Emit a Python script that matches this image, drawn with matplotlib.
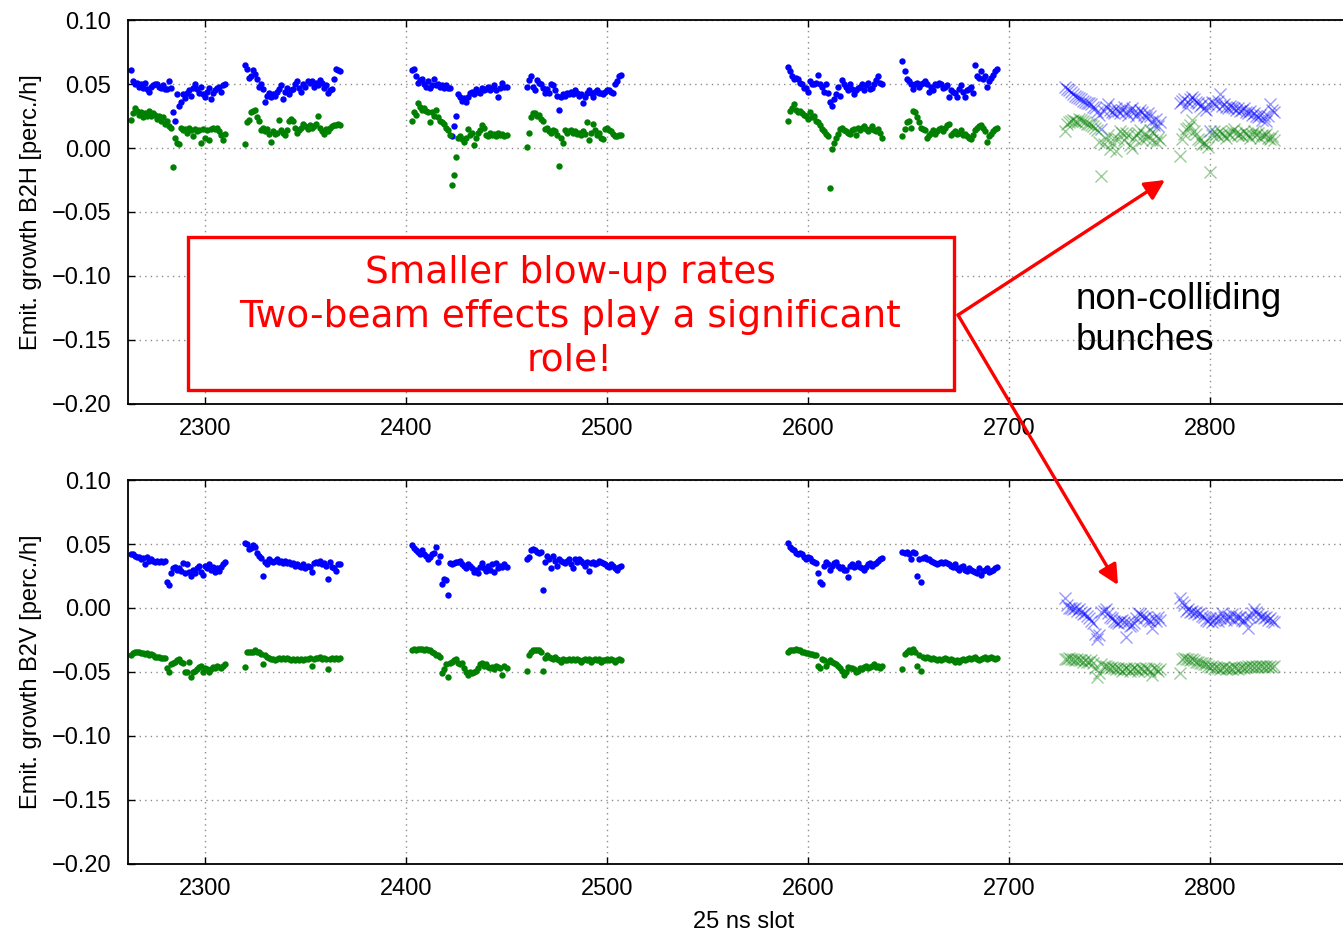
import numpy as np
import matplotlib
matplotlib.use("Agg")
import matplotlib.pyplot as plt
from matplotlib.patches import Rectangle, FancyArrowPatch
from matplotlib.ticker import FuncFormatter

# first 25 ns slot of each train (48 bunches per train)
coll_starts = [2263, 2320, 2403, 2460, 2590, 2647]
noncoll_starts = [2728, 2785]

# emittance growth B2H [perc./h], one list per train
b2h_blue = [
    [0.061, 0.052, 0.050, 0.051, 0.048, 0.050, 0.047, 0.051, 0.046, 0.044, 0.048, 0.049, 0.050, 0.050, 0.048, 0.047,
     0.049, 0.046, 0.046, 0.052, 0.047, 0.028, 0.021, 0.042, 0.033, 0.036, 0.042, 0.039, 0.043, 0.045, 0.041, 0.047,
     0.050, 0.046, 0.043, 0.048, 0.042, 0.040, 0.044, 0.047, 0.038, 0.043, 0.045, 0.047, 0.048, 0.044, 0.049, 0.050],
    [0.065, 0.062, 0.055, 0.056, 0.061, 0.058, 0.054, 0.048, 0.050, 0.046, 0.036, 0.041, 0.043, 0.040, 0.042, 0.041,
     0.044, 0.046, 0.049, 0.038, 0.044, 0.047, 0.042, 0.045, 0.046, 0.050, 0.052, 0.047, 0.044, 0.050, 0.048, 0.052,
     0.051, 0.052, 0.048, 0.051, 0.049, 0.053, 0.051, 0.047, 0.049, 0.043, 0.045, 0.046, 0.054, 0.062, 0.061, 0.060],
    [0.061, 0.062, 0.056, 0.051, 0.053, 0.054, 0.050, 0.048, 0.052, 0.047, 0.049, 0.054, 0.049, 0.050, 0.048, 0.049,
     0.047, 0.049, 0.047, 0.047, 0.009, 0.017, 0.025, 0.042, 0.040, 0.037, 0.039, 0.036, 0.040, 0.043, 0.044, 0.042,
     0.046, 0.044, 0.043, 0.047, 0.045, 0.046, 0.048, 0.045, 0.047, 0.049, 0.045, 0.040, 0.047, 0.051, 0.048, 0.048],
    [0.048, 0.053, 0.056, 0.048, 0.045, 0.053, 0.051, 0.050, 0.047, 0.043, 0.046, 0.043, 0.050, 0.049, 0.045, 0.041,
     0.030, 0.040, 0.042, 0.041, 0.043, 0.042, 0.044, 0.042, 0.045, 0.043, 0.041, 0.042, 0.035, 0.040, 0.043, 0.045,
     0.043, 0.040, 0.044, 0.045, 0.043, 0.043, 0.042, 0.044, 0.045, 0.045, 0.044, 0.043, 0.050, 0.052, 0.056, 0.057],
    [0.063, 0.060, 0.056, 0.054, 0.055, 0.054, 0.051, 0.050, 0.047, 0.047, 0.044, 0.052, 0.050, 0.050, 0.051, 0.057,
     0.050, 0.048, 0.044, 0.050, 0.043, 0.036, 0.033, 0.038, 0.042, 0.048, 0.041, 0.053, 0.050, 0.048, 0.045, 0.050,
     0.046, 0.042, 0.045, 0.047, 0.048, 0.050, 0.045, 0.049, 0.051, 0.046, 0.047, 0.050, 0.053, 0.056, 0.051, 0.050],
    [0.068, 0.060, 0.054, 0.052, 0.050, 0.046, 0.050, 0.051, 0.048, 0.050, 0.051, 0.052, 0.050, 0.044, 0.048, 0.045,
     0.050, 0.049, 0.051, 0.050, 0.047, 0.048, 0.049, 0.040, 0.045, 0.044, 0.043, 0.040, 0.046, 0.049, 0.044, 0.040,
     0.045, 0.046, 0.048, 0.043, 0.065, 0.056, 0.055, 0.060, 0.054, 0.056, 0.048, 0.052, 0.055, 0.057, 0.060, 0.062],
]
b2h_green = [
    [0.022, 0.027, 0.031, 0.029, 0.026, 0.028, 0.024, 0.027, 0.025, 0.029, 0.025, 0.027, 0.026, 0.023, 0.025, 0.021,
     0.024, 0.019, 0.021, 0.017, 0.016, -0.015, 0.008, 0.004, 0.003, 0.016, 0.014, 0.015, 0.012, 0.016, 0.014, 0.009,
     0.015, 0.013, 0.014, 0.004, 0.015, 0.008, 0.014, 0.006, 0.015, 0.016, 0.015, 0.016, 0.013, 0.010, 0.006, 0.011],
    [0.003, 0.020, 0.022, 0.028, 0.029, 0.030, 0.024, 0.021, 0.014, 0.016, 0.013, 0.015, 0.011, 0.005, 0.013, 0.011,
     0.012, 0.022, 0.014, 0.012, 0.010, 0.014, 0.021, 0.023, 0.021, 0.016, 0.012, 0.014, 0.016, 0.019, 0.017, 0.015,
     0.018, 0.016, 0.017, 0.019, 0.025, 0.016, 0.013, 0.011, 0.015, 0.013, 0.016, 0.017, 0.018, 0.018, 0.019, 0.018],
    [0.021, 0.028, 0.026, 0.035, 0.032, 0.030, 0.031, 0.029, 0.028, 0.020, 0.028, 0.025, 0.030, 0.024, 0.021, 0.020,
     0.019, 0.016, 0.014, 0.010, -0.029, -0.021, -0.007, 0.008, 0.009, 0.007, 0.005, 0.008, 0.015, 0.010, 0.012, 0.002,
     0.008, 0.012, 0.014, 0.018, 0.016, 0.010, 0.009, 0.012, 0.010, 0.011, 0.009, 0.012, 0.010, 0.011, 0.009, 0.010],
    [0.001, 0.012, 0.024, 0.027, 0.027, 0.025, 0.026, 0.023, 0.021, 0.015, 0.016, 0.013, 0.012, 0.014, 0.013, 0.010,
     -0.014, 0.008, 0.004, 0.014, 0.012, 0.013, 0.014, 0.012, 0.013, 0.011, 0.012, 0.010, 0.013, 0.011, 0.020, 0.006,
     0.012, 0.019, 0.014, 0.010, 0.012, 0.008, 0.007, 0.015, 0.016, 0.014, 0.013, 0.011, 0.009, 0.009, 0.010, 0.010],
    [0.021, 0.029, 0.031, 0.034, 0.030, 0.028, 0.029, 0.027, 0.026, 0.025, 0.023, 0.028, 0.024, 0.025, 0.021, 0.020,
     0.018, 0.015, 0.013, 0.011, 0.009, -0.031, -0.001, 0.004, 0.008, 0.011, 0.015, 0.016, 0.014, 0.013, 0.012, 0.011,
     0.014, 0.015, 0.010, 0.016, 0.014, 0.016, 0.017, 0.015, 0.013, 0.015, 0.017, 0.014, 0.013, 0.015, 0.012, 0.008],
    [0.009, 0.015, 0.020, 0.021, 0.016, 0.029, 0.028, 0.024, 0.020, 0.016, 0.015, 0.014, 0.008, 0.010, 0.012, 0.014,
     0.011, 0.013, 0.015, 0.016, 0.013, 0.016, 0.018, 0.019, 0.010, 0.012, 0.013, 0.011, 0.012, 0.014, 0.010, 0.011,
     0.009, 0.008, 0.007, 0.010, 0.014, 0.016, 0.017, 0.018, 0.016, 0.013, 0.005, 0.009, 0.011, 0.013, 0.015, 0.016],
]
b2h_blue_nc = [
    [0.048, 0.046, 0.045, 0.044, 0.042, 0.041, 0.040, 0.039, 0.038, 0.037, 0.036, 0.035, 0.035, 0.034, 0.032, 0.031,
     0.028, 0.026, 0.015, 0.029, 0.032, 0.034, 0.030, 0.028, 0.027, 0.031, 0.029, 0.027, 0.030, 0.032, 0.028, 0.026,
     0.030, 0.031, 0.028, 0.025, 0.027, 0.030, 0.028, 0.026, 0.024, 0.027, 0.025, 0.021, 0.018, 0.023, 0.017, 0.020],
    [0.035, 0.037, 0.038, 0.032, 0.036, 0.038, 0.040, 0.038, 0.036, 0.035, 0.033, 0.034, 0.031, 0.030, 0.034, 0.013,
     0.036, 0.035, 0.033, 0.037, 0.042, 0.033, 0.034, 0.032, 0.031, 0.033, 0.032, 0.031, 0.030, 0.031, 0.029, 0.030,
     0.031, 0.028, 0.027, 0.029, 0.026, 0.027, 0.025, 0.024, 0.026, 0.022, 0.025, 0.021, 0.025, 0.034, 0.030, 0.028],
]
b2h_green_nc = [
    [0.013, 0.019, 0.020, 0.021, 0.022, 0.021, 0.020, 0.023, 0.022, 0.021, 0.020, 0.019, 0.019, 0.018, 0.017, 0.016,
     0.014, 0.005, -0.022, 0.003, 0.007, 0.010, -0.001, 0.004, 0.008, -0.002, 0.007, 0.013, 0.012, 0.006, 0.012, 0.010,
     0.002, 0.000, 0.008, 0.010, 0.012, 0.014, 0.006, 0.011, 0.007, 0.009, 0.014, 0.006, 0.012, 0.005, 0.008, 0.006],
    [-0.006, 0.007, 0.011, 0.015, 0.016, 0.018, 0.022, 0.013, 0.011, 0.007, 0.006, 0.003, 0.004, 0.003, 0.001, -0.019,
     0.010, 0.013, 0.011, 0.009, 0.013, 0.011, 0.010, 0.008, 0.012, 0.010, 0.013, 0.015, 0.012, 0.010, 0.011, 0.009,
     0.013, 0.011, 0.010, 0.008, 0.011, 0.013, 0.010, 0.012, 0.008, 0.010, 0.009, 0.011, 0.008, 0.007, 0.009, 0.006],
]

# emittance growth B2V [perc./h]
b2v_blue = [
    [0.042, 0.042, 0.041, 0.040, 0.040, 0.038, 0.039, 0.034, 0.040, 0.037, 0.038, 0.037, 0.036, 0.037, 0.036, 0.037,
     0.036, 0.037, 0.020, 0.018, 0.027, 0.031, 0.032, 0.030, 0.031, 0.029, 0.035, 0.027, 0.034, 0.028, 0.025, 0.030,
     0.027, 0.031, 0.033, 0.028, 0.026, 0.033, 0.031, 0.034, 0.030, 0.032, 0.028, 0.031, 0.029, 0.032, 0.034, 0.036],
    [0.051, 0.050, 0.046, 0.047, 0.049, 0.048, 0.043, 0.041, 0.039, 0.025, 0.036, 0.034, 0.038, 0.037, 0.036, 0.037,
     0.038, 0.036, 0.037, 0.035, 0.037, 0.035, 0.036, 0.034, 0.035, 0.033, 0.034, 0.033, 0.032, 0.034, 0.031, 0.033,
     0.032, 0.028, 0.035, 0.036, 0.035, 0.037, 0.034, 0.035, 0.033, 0.023, 0.036, 0.032, 0.031, 0.029, 0.034, 0.034],
    [0.049, 0.047, 0.045, 0.044, 0.042, 0.045, 0.042, 0.041, 0.038, 0.040, 0.042, 0.043, 0.048, 0.036, 0.041, 0.019,
     0.023, 0.022, 0.010, 0.035, 0.034, 0.035, 0.036, 0.036, 0.037, 0.034, 0.033, 0.031, 0.034, 0.033, 0.031, 0.028,
     0.030, 0.027, 0.032, 0.035, 0.031, 0.029, 0.033, 0.030, 0.034, 0.028, 0.035, 0.031, 0.033, 0.032, 0.034, 0.032],
    [0.038, 0.040, 0.045, 0.046, 0.045, 0.044, 0.043, 0.044, 0.014, 0.036, 0.041, 0.038, 0.031, 0.041, 0.037, 0.033,
     0.038, 0.037, 0.036, 0.035, 0.037, 0.038, 0.034, 0.031, 0.038, 0.036, 0.038, 0.037, 0.035, 0.033, 0.036, 0.029,
     0.035, 0.036, 0.034, 0.035, 0.037, 0.036, 0.035, 0.034, 0.033, 0.032, 0.034, 0.033, 0.031, 0.030, 0.032, 0.033],
    [0.051, 0.048, 0.046, 0.045, 0.043, 0.042, 0.043, 0.042, 0.040, 0.038, 0.040, 0.039, 0.037, 0.036, 0.035, 0.027,
     0.020, 0.019, 0.033, 0.036, 0.034, 0.030, 0.033, 0.035, 0.036, 0.033, 0.031, 0.032, 0.030, 0.030, 0.024, 0.033,
     0.034, 0.032, 0.033, 0.035, 0.032, 0.031, 0.030, 0.032, 0.034, 0.035, 0.033, 0.034, 0.035, 0.037, 0.038, 0.039],
    [0.044, 0.043, 0.044, 0.042, 0.038, 0.044, 0.043, 0.025, 0.038, 0.020, 0.039, 0.040, 0.038, 0.038, 0.037, 0.036,
     0.035, 0.034, 0.035, 0.036, 0.035, 0.036, 0.035, 0.034, 0.033, 0.032, 0.034, 0.031, 0.030, 0.032, 0.033, 0.030,
     0.029, 0.031, 0.030, 0.029, 0.028, 0.027, 0.031, 0.026, 0.029, 0.030, 0.031, 0.028, 0.029, 0.030, 0.031, 0.032],
]
b2v_green = [
    [-0.037, -0.035, -0.034, -0.034, -0.034, -0.035, -0.035, -0.036, -0.035, -0.037, -0.036, -0.037, -0.038, -0.038,
     -0.038, -0.039, -0.039, -0.039, -0.047, -0.050, -0.044, -0.043, -0.042, -0.041, -0.040, -0.042, -0.043, -0.050,
     -0.050, -0.042, -0.054, -0.050, -0.049, -0.048, -0.046, -0.045, -0.050, -0.047, -0.048, -0.050, -0.048, -0.046,
     -0.047, -0.045, -0.046, -0.047, -0.045, -0.044],
    [-0.046, -0.034, -0.034, -0.034, -0.034, -0.033, -0.034, -0.034, -0.036, -0.044, -0.037, -0.038, -0.039, -0.040,
     -0.040, -0.041, -0.040, -0.039, -0.040, -0.039, -0.040, -0.039, -0.040, -0.041, -0.040, -0.041, -0.040, -0.041,
     -0.040, -0.041, -0.040, -0.040, -0.039, -0.045, -0.040, -0.039, -0.039, -0.038, -0.040, -0.039, -0.040, -0.048,
     -0.040, -0.039, -0.040, -0.039, -0.040, -0.039],
    [-0.033, -0.032, -0.033, -0.032, -0.032, -0.032, -0.033, -0.032, -0.033, -0.033, -0.034, -0.035, -0.037, -0.037,
     -0.038, -0.051, -0.048, -0.044, -0.054, -0.043, -0.042, -0.041, -0.040, -0.043, -0.044, -0.043, -0.047, -0.050,
     -0.052, -0.050, -0.051, -0.050, -0.049, -0.047, -0.044, -0.043, -0.045, -0.044, -0.046, -0.047, -0.046, -0.048,
     -0.045, -0.046, -0.047, -0.052, -0.045, -0.047],
    [-0.049, -0.037, -0.034, -0.033, -0.033, -0.033, -0.033, -0.034, -0.049, -0.039, -0.037, -0.038, -0.039, -0.040,
     -0.038, -0.040, -0.041, -0.042, -0.040, -0.041, -0.041, -0.040, -0.041, -0.040, -0.041, -0.040, -0.041, -0.042,
     -0.041, -0.040, -0.041, -0.040, -0.042, -0.041, -0.040, -0.041, -0.040, -0.042, -0.041, -0.041, -0.040, -0.041,
     -0.040, -0.041, -0.042, -0.041, -0.040, -0.041],
    [-0.034, -0.033, -0.033, -0.033, -0.032, -0.033, -0.033, -0.034, -0.034, -0.035, -0.035, -0.036, -0.036, -0.037,
     -0.037, -0.045, -0.047, -0.040, -0.041, -0.045, -0.042, -0.041, -0.042, -0.043, -0.044, -0.045, -0.047, -0.049,
     -0.052, -0.050, -0.046, -0.047, -0.047, -0.048, -0.050, -0.049, -0.047, -0.048, -0.046, -0.045, -0.047, -0.046,
     -0.045, -0.044, -0.046, -0.045, -0.047, -0.045],
    [-0.048, -0.036, -0.034, -0.033, -0.034, -0.032, -0.034, -0.045, -0.037, -0.049, -0.038, -0.039, -0.038, -0.039,
     -0.040, -0.039, -0.040, -0.041, -0.040, -0.041, -0.040, -0.039, -0.040, -0.041, -0.040, -0.041, -0.042, -0.041,
     -0.042, -0.041, -0.040, -0.041, -0.040, -0.039, -0.040, -0.039, -0.038, -0.040, -0.041, -0.040, -0.039, -0.038,
     -0.040, -0.039, -0.038, -0.039, -0.040, -0.039],
]
b2v_blue_nc = [
    [0.008, 0.002, 0.000, 0.000, -0.001, 0.000, -0.002, -0.001, -0.003, -0.005, -0.004, -0.006, -0.008, -0.010, -0.012,
     -0.020, -0.024, -0.021, -0.003, -0.002, -0.001, -0.004, -0.007, -0.008, -0.010, -0.011, -0.012, -0.010, -0.009,
     -0.011, -0.023, -0.011, -0.014, -0.013, -0.012, -0.008, -0.004, -0.005, -0.006, -0.008, -0.007, -0.009, -0.010,
     -0.016, -0.008, -0.010, -0.007, -0.009],
    [0.008, 0.005, 0.002, -0.002, -0.001, -0.003, -0.002, -0.004, -0.003, -0.005, -0.004, -0.006, -0.007, -0.009, -0.010,
     -0.008, -0.011, -0.009, -0.007, -0.010, -0.008, -0.004, -0.007, -0.009, -0.006, -0.008, -0.005, -0.009, -0.006,
     -0.008, -0.007, -0.009, -0.010, -0.008, -0.016, -0.007, -0.004, -0.001, -0.003, -0.005, -0.007, -0.006, -0.008,
     -0.007, -0.009, -0.008, -0.010, -0.011],
]
b2v_green_nc = [
    [-0.040, -0.040, -0.039, -0.040, -0.040, -0.041, -0.040, -0.041, -0.041, -0.042, -0.041, -0.042, -0.042, -0.041,
     -0.043, -0.047, -0.054, -0.051, -0.044, -0.045, -0.045, -0.046, -0.047, -0.046, -0.047, -0.048, -0.047, -0.048,
     -0.049, -0.048, -0.047, -0.048, -0.049, -0.048, -0.047, -0.048, -0.049, -0.047, -0.048, -0.049, -0.047, -0.048,
     -0.049, -0.052, -0.047, -0.048, -0.049, -0.048],
    [-0.051, -0.040, -0.039, -0.040, -0.040, -0.041, -0.040, -0.041, -0.042, -0.042, -0.043, -0.043, -0.044, -0.044,
     -0.045, -0.046, -0.045, -0.047, -0.046, -0.047, -0.048, -0.047, -0.046, -0.048, -0.047, -0.047, -0.048, -0.046,
     -0.047, -0.048, -0.047, -0.046, -0.047, -0.046, -0.045, -0.046, -0.045, -0.046, -0.045, -0.046, -0.045, -0.045,
     -0.046, -0.045, -0.046, -0.045, -0.046, -0.045],
]

FONT = ["Liberation Sans", "DejaVu Sans"]
plt.rcParams["font.family"] = FONT
plt.rcParams["font.size"] = 17

W, H = 1343, 932


def fx(px):
    return px / W


def fy(py):
    return 1 - py / H


def fmt_tick(v, pos):
    s = "%.2f" % v
    if s == "-0.00":
        s = "0.00"
    return s.replace("-", "\u2212")


def plot_trains(ax, starts, values, color, nc=False):
    for start, vals in zip(starts, values):
        x = start + np.arange(len(vals))
        if nc:
            ax.plot(x, vals, "x", color=color, ms=8, mew=1.0, alpha=0.4)
        else:
            ax.plot(x, vals, "o", color=color, ms=4.6, mew=0)


def style_axis(ax, ylabel):
    ax.set_xlim(2261.7, 2874.6)
    ax.set_ylim(-0.2, 0.1)
    ax.set_yticks(np.arange(-0.2, 0.101, 0.05))
    ax.set_xticks(np.arange(2300, 2801, 100))
    ax.yaxis.set_major_formatter(FuncFormatter(fmt_tick))
    ax.grid(True, color="0.55", linestyle=(0, (1, 3)), linewidth=1.0)
    ax.tick_params(direction="in", length=5, width=1, labelsize=17, top=True)
    ax.tick_params(axis="y", pad=12)
    ax.tick_params(axis="x", pad=10)
    for sp in ax.spines.values():
        sp.set_linewidth(1.3)
    ax.set_ylabel(ylabel, fontsize=17)
    ax.yaxis.set_label_coords(-0.07, 0.5)


fig = plt.figure(figsize=(W / 100, H / 100), dpi=100)
ax1 = fig.add_axes([fx(128), fy(404), fx(1360 - 128), 384 / H])
ax2 = fig.add_axes([fx(128), fy(864), fx(1360 - 128), 384 / H])

plot_trains(ax1, coll_starts, b2h_blue, "#0000ff")
plot_trains(ax1, coll_starts, b2h_green, "#008000")
plot_trains(ax1, noncoll_starts, b2h_blue_nc, "#0000ff", nc=True)
plot_trains(ax1, noncoll_starts, b2h_green_nc, "#008000", nc=True)
style_axis(ax1, "Emit. growth B2H [perc./h]")

plot_trains(ax2, coll_starts, b2v_blue, "#0000ff")
plot_trains(ax2, coll_starts, b2v_green, "#008000")
plot_trains(ax2, noncoll_starts, b2v_blue_nc, "#0000ff", nc=True)
plot_trains(ax2, noncoll_starts, b2v_green_nc, "#008000", nc=True)
style_axis(ax2, "Emit. growth B2V [perc./h]")
ax2.set_xlabel("25 ns slot", fontsize=17, labelpad=8)

# annotation box with the conclusion
box = Rectangle((fx(188), fy(390)), fx(954 - 188), (390 - 237) / H, transform=fig.transFigure,
                facecolor="white", edgecolor="#ff0000", linewidth=2.4, zorder=5)
fig.add_artist(box)
fig.text(fx(570), fy(317), "Smaller blow-up rates\nTwo-beam effects play a significant\nrole!",
         ha="center", va="center", multialignment="center", color="#ff0000",
         fontsize=27, family="DejaVu Sans", linespacing=1.27, zorder=6)

fig.text(fx(1076), fy(320), "non-colliding\nbunches", ha="left", va="center",
         multialignment="left", color="black", fontsize=26.5, linespacing=1.25, zorder=6)

start = (fx(958), fy(315))
for end in [(fx(1165), fy(180)), (fx(1118), fy(585))]:
    arr = FancyArrowPatch(start, end, transform=fig.transFigure, arrowstyle="-|>",
                          mutation_scale=30, color="#ff0000", linewidth=2.4, zorder=6,
                          shrinkA=0, shrinkB=0)
    fig.add_artist(arr)

fig.savefig("out.png", dpi=100)
